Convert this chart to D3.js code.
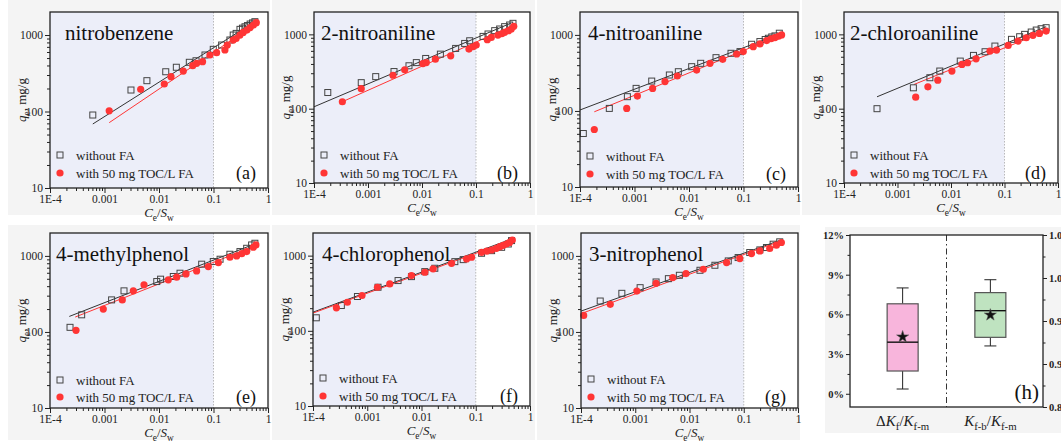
<!DOCTYPE html>
<html><head><meta charset="utf-8">
<script src="https://cdn.jsdelivr.net/npm/d3@7"></script>
<style>body{margin:0;background:#fff}svg, svg text{font-family:"Liberation Serif","DejaVu Serif",serif !important}</style>
</head><body><svg id="c" width="1061" height="444" font-family="Liberation Serif"></svg>
<script>
// ---------- axis ticks ----------
const xTickValues = [1e-4, 1e-3, 1e-2, 1e-1, 1];
const xTickLabels = ["1E-4", "0.001", "0.01", "0.1", "1"];
const yTickValues = [10, 100, 1000];
const yTickLabels = ["10", "100", "1000"];
const legendLabels = ["without FA", "with 50 mg TOC/L FA"];
const panelNames = ["nitrobenzene", "2-nitroaniline", "4-nitroaniline", "2-chloroaniline", "4-methylphenol", "4-chlorophenol", "3-nitrophenol"];
const panelTags = ["(a)", "(b)", "(c)", "(d)", "(e)", "(f)", "(g)", "(h)"];

// ---------- data: [Ce/Sw, qe] ----------
const nbWithout = [[6.1e-4,90],[0.00306,191],[0.006,253],[0.0133,331],[0.0208,379],[0.036,440],[0.0478,461],[0.0698,548],[0.099,650],[0.141,740],[0.2,861],[0.23,1000],[0.26,1050],[0.306,1186],[0.34,1230],[0.378,1282],[0.42,1330],[0.47,1393],[0.52,1440],[0.575,1494]];
const nbWith = [[0.00122,102],[0.00461,195],[0.0125,229],[0.0166,285],[0.0279,338],[0.0415,398],[0.049,427],[0.063,448],[0.086,548],[0.114,588],[0.162,637],[0.179,740],[0.23,860],[0.26,900],[0.306,1000],[0.35,1080],[0.41,1160],[0.47,1250],[0.54,1350],[0.61,1450]];
const nbFitWithout = [[6.1e-4,68.7],[0.61,1537]];
const nbFitWith = [[0.00122,71.5],[0.61,1420]];

const na2Without = [[1.8e-4,165],[7.5e-4,224],[0.00139,270],[0.00303,316],[0.00574,378],[0.00785,417],[0.0117,474],[0.0219,542],[0.042,647],[0.0617,755],[0.0764,820],[0.135,939],[0.167,1012],[0.222,1122],[0.274,1181],[0.339,1270],[0.42,1337],[0.484,1408]];
const na2With = [[3.35e-4,124],[7.5e-4,186],[0.0029,282],[0.00478,333],[0.0104,405],[0.012,417],[0.0177,464],[0.034,515],[0.074,634],[0.088,681],[0.101,718],[0.162,847],[0.192,911],[0.255,978],[0.3,1020],[0.339,1064],[0.4,1120],[0.45,1181],[0.5,1282]];
const na2FitWithout = [[1e-4,106],[0.45,1423]];
const na2FitWith = [[3.35e-4,124],[0.48,1309]];

const na4Without = [[1.15e-4,50.5],[3.45e-4,108],[7.4e-4,154],[0.00107,198],[0.00207,247],[0.00436,297],[0.00637,328],[0.0112,382],[0.0164,423],[0.0313,502],[0.059,573],[0.0863,603],[0.141,753],[0.2,817],[0.25,870],[0.286,903],[0.33,940],[0.378,970],[0.454,1052]];
const na4With = [[1.83e-4,57],[7.2e-4,108],[0.00113,157],[0.00215,198],[0.00363,243],[0.0061,288],[0.0138,345],[0.0243,423],[0.0415,477],[0.075,561],[0.099,603],[0.151,701],[0.2,761],[0.266,841],[0.32,890],[0.378,922],[0.44,960],[0.5,1000]];
const na4FitWithout = [[1e-4,103],[0.5,1052]];
const na4FitWith = [[1.83e-4,97.5],[0.5,1000]];

const ca2Without = [[4.14e-4,100],[0.00198,191],[0.00403,261],[0.00617,321],[0.0149,437],[0.0263,521],[0.0433,584],[0.0662,696],[0.135,857],[0.192,930],[0.238,1000],[0.316,1075],[0.392,1143],[0.484,1191],[0.6,1230]];
const ca2With = [[0.00219,143],[0.0037,197],[0.00566,242],[0.0104,321],[0.016,394],[0.0204,415],[0.0294,469],[0.0535,596],[0.0711,615],[0.117,711],[0.179,813],[0.255,901],[0.34,970],[0.45,1031],[0.6,1109]];
const ca2FitWithout = [[4.14e-4,144.5],[0.6,1268]];
const ca2FitWith = [[0.00204,212],[0.6,1109]];

const mpWithout = [[2.33e-4,115],[3.81e-4,168],[0.00135,264],[0.00228,347],[0.0091,460],[0.0107,494],[0.0183,536],[0.0243,592],[0.0607,778],[0.099,843],[0.132,904],[0.2,1051],[0.306,1140],[0.406,1259],[0.5,1393],[0.575,1466]];
const mpWith = [[3.0e-4,105],[9.5e-4,200],[0.00212,264],[0.00338,347],[0.00531,416],[0.0148,484],[0.0211,525],[0.0313,580],[0.049,635],[0.0803,724],[0.123,817],[0.2,960],[0.266,1000],[0.33,1070],[0.406,1140],[0.537,1300],[0.6,1393]];
const mpFitWithout = [[2.26e-4,160],[0.575,1438]];
const mpFitWith = [[2.9e-4,157],[0.575,1352]];

const cpWithout = [[1.15e-4,149],[3.33e-4,217],[6.6e-4,286],[0.00158,380],[0.0037,466],[0.00653,526],[0.0115,613],[0.0176,679],[0.0412,832],[0.0587,885],[0.128,1075],[0.196,1165],[0.3,1290],[0.398,1428],[0.457,1585]];
const cpWith = [[2.7e-4,202],[4.3e-4,240],[8.0e-4,295],[0.00154,380],[0.0026,421],[0.00653,543],[0.0115,601],[0.0164,665],[0.0358,791],[0.0678,903],[0.0838,951],[0.128,1107],[0.16,1150],[0.196,1189],[0.24,1250],[0.279,1315],[0.32,1370],[0.371,1428],[0.42,1500],[0.472,1615]];
const cpFitWithout = [[1e-4,177],[0.457,1663]];
const cpFitWith = [[1e-4,172],[0.472,1615]];

const npWithout = [[2.26e-4,255],[5.66e-4,322],[0.00123,382],[0.00242,454],[0.00408,502],[0.0065,556],[0.0156,647],[0.0294,753],[0.0518,859],[0.0788,951],[0.129,1107],[0.198,1199],[0.262,1288],[0.348,1425],[0.46,1531]];
const npWith = [[1.12e-4,165],[3.46e-4,231],[0.00107,345],[0.00242,436],[0.00491,518],[0.00863,585],[0.018,667],[0.0482,817],[0.0847,922],[0.139,1074],[0.198,1164],[0.301,1251],[0.4,1384],[0.494,1500]];
const npFitWithout = [[1e-4,188],[0.494,1626]];
const npFitWith = [[1e-4,174],[0.494,1578]];

// ---------- box plot (h) ----------
const boxCategories = ["dK", "Kb"];
const boxStatNames = ["min", "q1", "median", "q3", "max", "mean"];
const deltaKfStats = [0.36, 1.72, 3.9, 6.8, 8.0, 4.3];      // %
const ratioKfStats = [0.921, 0.931, 0.962, 0.983, 0.998, 0.957];
const leftTickValues = [0, 3, 6, 9, 12];
const leftTickLabels = ["0%", "3%", "6%", "9%", "12%"];
const rightTickValues = [0.85, 0.90, 0.95, 1.00, 1.05];
const rightTickLabels = ["0.85", "0.90", "0.95", "1.00", "1.05"];

// ---------- layout ----------
const panels = [
  {name: panelNames[0], tag: panelTags[0], f:[50,268,12,188], leg:[155,173], tx:15, w:nbWithout, m:nbWith, fw:nbFitWithout, fm:nbFitWith},
  {name: panelNames[1], tag: panelTags[1], f:[314,530,12,183], leg:[155,173], tx:7, w:na2Without, m:na2With, fw:na2FitWithout, fm:na2FitWith},
  {name: panelNames[2], tag: panelTags[2], f:[580,798,12,187], leg:[156,174], tx:8, w:na4Without, m:na4With, fw:na4FitWithout, fm:na4FitWith},
  {name: panelNames[3], tag: panelTags[3], f:[844,1058,12,183], leg:[155,173], tx:6, w:ca2Without, m:ca2With, fw:ca2FitWithout, fm:ca2FitWith},
  {name: panelNames[4], tag: panelTags[4], f:[50,268,233,408], leg:[380,397], tx:6, w:mpWithout, m:mpWith, fw:mpFitWithout, fm:mpFitWith},
  {name: panelNames[5], tag: panelTags[5], f:[313,530,233,406], leg:[378,396], tx:9, w:cpWithout, m:cpWith, fw:cpFitWithout, fm:cpFitWith},
  {name: panelNames[6], tag: panelTags[6], f:[581,798,233,408], leg:[379,397], tx:8, w:npWithout, m:npWith, fw:npFitWithout, fm:npFitWith}
];
const bgBoxes = [[8,0,262,215],[272,0,263,215],[537,0,263,215],[802,0,259,215],[8,225,262,215],[272,225,263,215],[537,225,263,215],[825,227,236,206]];

const FONT = "Liberation Serif, DejaVu Serif, serif";
const svg = d3.select("#c");
const BLACK = "#333", RED = "#ff3535";

bgBoxes.forEach(b => svg.append("rect").attr("x", b[0]).attr("y", b[1]).attr("width", b[2]).attr("height", b[3]).attr("fill", "#f4f4f4"));

function minors(vals, lo, hi) {
  const out = [];
  vals.forEach(v => { for (let k = 2; k <= 9; k++) { const t = v * k; if (t > lo && t < hi) out.push(t); } });
  return out;
}

// parts: [text, italic, subscript]; baseline shifts are in px so they cancel exactly
function subText(sel, parts, fs) {
  const sh = Math.round(fs * 0.28);
  let down = false;
  parts.forEach(p => {
    const t = sel.append("tspan").text(p[0]);
    if (p[1]) t.attr("font-style", "italic");
    if (p[2]) {
      t.attr("font-size", fs * 0.72);
      if (!down) { t.attr("dy", sh); down = true; }
    } else if (down) {
      t.attr("dy", -sh); down = false;
    }
  });
}

panels.forEach(p => {
  const [x0, x1, y0, y1] = p.f;
  const g = svg.append("g");
  const x = d3.scaleLog().domain([1e-4, 1]).range([x0, x1]);
  const y = d3.scaleLog().domain([10, 2000]).range([y1, y0]);

  g.append("rect").attr("x", x0).attr("y", y0).attr("width", x1 - x0).attr("height", y1 - y0).attr("fill", "#fff");
  g.append("rect").attr("x", x0).attr("y", y0).attr("width", x(0.1) - x0).attr("height", y1 - y0).attr("fill", "#eceef9");
  g.append("line").attr("x1", x(0.1)).attr("x2", x(0.1)).attr("y1", y0).attr("y2", y1)
    .attr("stroke", "#aaa").attr("stroke-width", 0.8).attr("stroke-dasharray", "1.5,1.5");

  const xa = g.append("g").attr("transform", `translate(0,${y1})`)
    .call(d3.axisBottom(x).tickValues(xTickValues).tickSize(5).tickSizeOuter(0).tickPadding(2)
      .tickFormat((d, i) => xTickLabels[i]));
  const xm = g.append("g").attr("transform", `translate(0,${y1})`)
    .call(d3.axisBottom(x).tickValues(minors(xTickValues, 1e-4, 1)).tickSize(3).tickSizeOuter(0).tickFormat(""));
  const ya = g.append("g").attr("transform", `translate(${x0},0)`)
    .call(d3.axisLeft(y).tickValues(yTickValues).tickSize(5).tickSizeOuter(0).tickPadding(2)
      .tickFormat((d, i) => yTickLabels[i]));
  const ym = g.append("g").attr("transform", `translate(${x0},0)`)
    .call(d3.axisLeft(y).tickValues(minors(yTickValues, 10, 2000)).tickSize(3).tickSizeOuter(0).tickFormat(""));
  [xa, xm, ya, ym].forEach(a => {
    a.attr("font-family", FONT);
    a.select(".domain").remove();
    a.selectAll("line").attr("stroke", "#222");
    a.selectAll("text").style("font-family", FONT).attr("font-size", 11.5).attr("fill", "#222");
  });

  const line = d3.line().x(d => x(d[0])).y(d => y(d[1]));
  g.append("path").datum(p.fw).attr("d", line).attr("stroke", BLACK).attr("stroke-width", 1).attr("fill", "none");
  g.append("path").datum(p.fm).attr("d", line).attr("stroke", RED).attr("stroke-width", 1).attr("fill", "none");

  g.selectAll(".sq").data(p.w).enter().append("rect")
    .attr("x", d => x(d[0]) - 3).attr("y", d => y(d[1]) - 3).attr("width", 6).attr("height", 6)
    .attr("fill", "none").attr("stroke", "#444").attr("stroke-width", 1);
  g.selectAll(".ci").data(p.m).enter().append("circle")
    .attr("cx", d => x(d[0])).attr("cy", d => y(d[1])).attr("r", 3.6).attr("fill", RED);

  g.append("rect").attr("x", x0).attr("y", y0).attr("width", x1 - x0).attr("height", y1 - y0)
    .attr("fill", "none").attr("stroke", "#222").attr("stroke-width", 1.3);

  g.append("text").attr("x", x0 + p.tx).attr("y", y0 + 28).style("font-family", FONT).attr("font-size", 21).attr("fill", "#111").text(p.name);

  g.append("rect").attr("x", x0 + 10 - 3).attr("y", p.leg[0] - 3).attr("width", 6).attr("height", 6)
    .attr("fill", "none").attr("stroke", "#444");
  g.append("circle").attr("cx", x0 + 10).attr("cy", p.leg[1]).attr("r", 3.6).attr("fill", RED);
  g.append("text").attr("x", x0 + 26).attr("y", p.leg[0]).attr("dy", "0.35em").style("font-family", FONT).attr("font-size", 13).attr("fill", "#222").text(legendLabels[0]);
  g.append("text").attr("x", x0 + 26).attr("y", p.leg[1]).attr("dy", "0.35em").style("font-family", FONT).attr("font-size", 13).attr("fill", "#222").text(legendLabels[1]);
  g.append("text").attr("x", x1 - 12).attr("y", p.leg[1]).attr("dy", "0.35em").attr("text-anchor", "end").style("font-family", FONT).attr("font-size", 18).attr("fill", "#111").text(p.tag);

  const xt = g.append("text").attr("x", (x0 + x1) / 2).attr("y", y1 + 29).attr("text-anchor", "middle").style("font-family", FONT).attr("font-size", 13).attr("fill", "#222");
  subText(xt, [["C", true], ["e", false, true], ["/", false], ["S", true], ["w", false, true]], 13);
  const yt = g.append("text").attr("transform", `translate(${x0 - 24},${(y0 + y1) / 2}) rotate(-90)`)
    .attr("text-anchor", "middle").style("font-family", FONT).attr("font-size", 13).attr("fill", "#222");
  subText(yt, [["q", true], ["e", false, true], [", mg/g", false]], 13);
});

// ---------- panel (h) ----------
(function () {
  const x0 = 850, x1 = 1043, y0 = 235, y1 = 407;
  const g = svg.append("g");
  const xs = d3.scalePoint().domain(boxCategories).range([x0, x1]).padding(0.6);
  const yL = d3.scaleLinear().domain([-1, 12]).range([y1, y0]);
  const yR = d3.scaleLinear().domain([0.85, 1.05]).range([y1, y0]);
  g.append("rect").attr("x", x0).attr("y", y0).attr("width", x1 - x0).attr("height", y1 - y0).attr("fill", "#fff");

  const la = g.append("g").attr("transform", `translate(${x0},0)`)
    .call(d3.axisLeft(yL).tickValues(leftTickValues).tickSize(4).tickSizeOuter(0).tickPadding(2).tickFormat((d, i) => leftTickLabels[i]));
  const lm = g.append("g").attr("transform", `translate(${x0},0)`)
    .call(d3.axisLeft(yL).tickValues([1.5, 4.5, 7.5, 10.5]).tickSize(2.5).tickSizeOuter(0).tickFormat(""));
  const ra = g.append("g").attr("transform", `translate(${x1},0)`)
    .call(d3.axisRight(yR).tickValues(rightTickValues).tickSize(4).tickSizeOuter(0).tickPadding(2).tickFormat((d, i) => rightTickLabels[i]));
  const rm = g.append("g").attr("transform", `translate(${x1},0)`)
    .call(d3.axisRight(yR).tickValues([0.875, 0.925, 0.975, 1.025]).tickSize(2.5).tickSizeOuter(0).tickFormat(""));
  [la, lm, ra, rm].forEach(a => {
    a.attr("font-family", FONT);
    a.select(".domain").remove();
    a.selectAll("line").attr("stroke", "#222");
    a.selectAll("text").style("font-family", FONT).attr("font-size", 10.5).attr("font-weight", "bold").attr("fill", "#222");
  });

  g.append("line").attr("x1", (x0 + x1) / 2).attr("x2", (x0 + x1) / 2).attr("y1", y0).attr("y2", y1)
    .attr("stroke", "#333").attr("stroke-width", 1).attr("stroke-dasharray", "6,3,1.5,3");

  const boxes = [
    {cat: boxCategories[0], s: deltaKfStats, sc: yL, fill: "#f8b5dc"},
    {cat: boxCategories[1], s: ratioKfStats, sc: yR, fill: "#bfe3c0"}
  ];
  const bw = 31, cw = 12;
  boxes.forEach(b => {
    const cx = xs(b.cat), sc = b.sc, s = b.s;
    g.append("line").attr("x1", cx).attr("x2", cx).attr("y1", sc(s[4])).attr("y2", sc(s[3])).attr("stroke", "#222");
    g.append("line").attr("x1", cx).attr("x2", cx).attr("y1", sc(s[1])).attr("y2", sc(s[0])).attr("stroke", "#222");
    g.append("line").attr("x1", cx - cw / 2).attr("x2", cx + cw / 2).attr("y1", sc(s[4])).attr("y2", sc(s[4])).attr("stroke", "#222");
    g.append("line").attr("x1", cx - cw / 2).attr("x2", cx + cw / 2).attr("y1", sc(s[0])).attr("y2", sc(s[0])).attr("stroke", "#222");
    g.append("rect").attr("x", cx - bw / 2).attr("y", sc(s[3])).attr("width", bw).attr("height", sc(s[1]) - sc(s[3]))
      .attr("fill", b.fill).attr("stroke", "#555").attr("stroke-width", 1.2);
    g.append("line").attr("x1", cx - bw / 2).attr("x2", cx + bw / 2).attr("y1", sc(s[2])).attr("y2", sc(s[2])).attr("stroke", "#111").attr("stroke-width", 1.4);
    g.append("path").attr("d", d3.symbol(d3.symbolStar, 45)()).attr("transform", `translate(${cx},${sc(s[5])})`)
      .attr("fill", "#111").attr("stroke", "#555").attr("stroke-width", 0.6);
  });

  g.append("rect").attr("x", x0).attr("y", y0).attr("width", x1 - x0).attr("height", y1 - y0)
    .attr("fill", "none").attr("stroke", "#222").attr("stroke-width", 1.3);
  g.append("text").attr("x", x1 - 4).attr("y", y1 - 8).attr("text-anchor", "end").style("font-family", FONT).attr("font-size", 21).attr("fill", "#111").text(panelTags[7]);

  const t1 = g.append("text").attr("x", xs(boxCategories[0])).attr("y", 426).attr("text-anchor", "middle").style("font-family", FONT).attr("font-size", 15).attr("fill", "#222");
  subText(t1, [["Δ", false], ["K", true], ["f", false, true], ["/", false], ["K", true], ["f-m", false, true]], 15);
  const t2 = g.append("text").attr("x", xs(boxCategories[1])).attr("y", 426).attr("text-anchor", "middle").style("font-family", FONT).attr("font-size", 15).attr("fill", "#222");
  subText(t2, [["K", true], ["f-b", false, true], ["/", false], ["K", true], ["f-m", false, true]], 15);
})();
</script></body></html>
